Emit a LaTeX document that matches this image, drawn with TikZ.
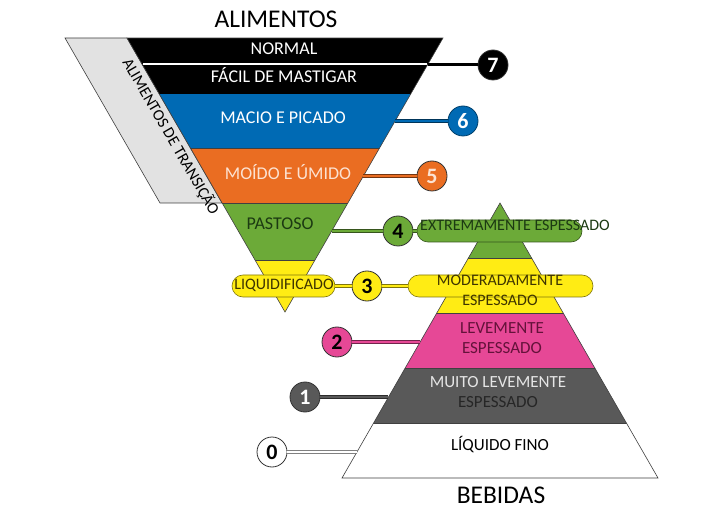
\documentclass[tikz,border=0pt]{standalone}
\usepackage{fontspec}
\setmainfont{Carlito}
\definecolor{azul}{RGB}{0,106,180}
\definecolor{laranja}{RGB}{234,109,34}
\definecolor{verde}{RGB}{108,170,56}
\definecolor{amarelo}{RGB}{255,236,20}
\definecolor{rosa}{RGB}{230,72,150}
\definecolor{cinza}{RGB}{89,89,89}
\definecolor{cinzac}{RGB}{226,226,226}
\definecolor{pessego}{RGB}{252,226,210}
\definecolor{verdet}{RGB}{28,58,18}
\definecolor{amarelot}{RGB}{62,52,0}
\definecolor{rosat}{RGB}{100,18,58}
\tikzset{
    CC/.style ={circle,minimum size=30pt,inner sep=0pt,draw=black!80,line width=0.8pt,font=\fontsize{22}{22}\selectfont\bfseries},
    BA/.style ={rectangle,rounded corners=11pt,minimum height=22pt,draw=#1!50!black,fill=#1,line width=0.6pt},
    LK/.style ={draw=#1!50!black,double=#1,double distance=2.6pt,line width=0.6pt},
    TX/.style ={font=\fontsize{16}{20}\selectfont,align=center,inner sep=0pt},
    TM/.style ={TX,font=\fontsize{17}{20}\selectfont},
    TB/.style ={TX,font=\fontsize{18}{22}\selectfont},
    BD/.style ={draw=black!75,line width=0.6pt}}

\begin{document}
\begin{tikzpicture}[x=1pt,y=-1pt]
        \useasboundingbox (0,0) rectangle (720,521);
        \fill[white] (0,0) rectangle (720,521);
        \filldraw[fill=cinzac,BD] (65,38) -- (127,38) -- (222,203) -- (160,203) -- cycle;
        \begin{scope}
            \clip (127,38) -- (443,38) -- (285,312) -- cycle;
            \fill[black] (100,38) rectangle (460,94);
            \fill[azul] (100,94) rectangle (460,148);
            \fill[laranja] (100,148) rectangle (460,203);
            \fill[verde] (100,203) rectangle (460,260);
            \fill[amarelo] (100,260) rectangle (460,312);
            \draw[BD] (100,148) -- (460,148) (100,203) -- (460,203) (100,260) -- (460,260);
        \end{scope}
        \draw[white,line width=1.2pt] (143,64) -- (427,64);
        \draw[BD] (127,38) -- (443,38) -- (285,312) -- cycle;
        \begin{scope}
            \clip (500,203) -- (658,478) -- (342,478) -- cycle;
            \fill[verde] (330,203) rectangle (670,258);
            \fill[amarelo] (330,258) rectangle (670,313);
            \fill[rosa] (330,313) rectangle (670,368);
            \fill[cinza] (330,368) rectangle (670,423);
            \draw[BD] (330,258) -- (670,258) (330,313) -- (670,313) (330,368) -- (670,368) (330,423) -- (670,423);
        \end{scope}
        \draw[BD] (500,203) -- (658,478) -- (342,478) -- cycle;
        \node[TX,rotate=-60,anchor=base] (AT) at (166.5,139) {ALIMENTOS DE TRANSIÇÃO};
        \node[BA=verde,minimum width=165pt] (B4) at (499.5,231) {};
        \node[BA=amarelo,minimum width=103pt] (B3a) at (283.5,286) {};
        \node[BA=amarelo,minimum width=185pt] (B3b) at (500.5,286) {};
        \node[CC,fill=black,text=white] (7) at (493,65) {7};
        \node[CC,fill=azul,text=white,draw=azul!60!black] (6) at (463,121) {6};
        \node[CC,fill=laranja,text=pessego] (5) at (432,176) {5};
        \node[CC,fill=verde] (4) at (398,231) {4};
        \node[CC,fill=amarelo] (3) at (367,286) {3};
        \node[CC,fill=rosa] (2) at (337,342) {2};
        \node[CC,fill=cinza,text=white] (1) at (305,397) {1};
        \node[CC,fill=white] (0) at (272,452) {0};
        \coordinate (e7) at (428,65);
        \coordinate (e6) at (395,121);
        \coordinate (e5) at (363,176);
        \coordinate (e4) at (332,231);
        \coordinate (e2) at (420,342);
        \coordinate (e1) at (388,397);
        \coordinate (e0) at (357,452);
        \node[font=\fontsize{25.5}{25}\selectfont,anchor=base] (AL) at (276,28) {ALIMENTOS};
        \node[font=\fontsize{25.5}{25}\selectfont,anchor=base] (BE) at (501,503) {BEBIDAS};
        \node[TB,white,anchor=base] (T7a) at (284,55) {NORMAL};
        \node[TB,white,anchor=base] (T7b) at (284,83) {FÁCIL DE MASTIGAR};
        \node[TB,white,anchor=base] (T6) at (283,124) {MACIO E PICADO};
        \node[TB,text=pessego,anchor=base] (T5) at (288,180) {MOÍDO E ÚMIDO};
        \node[TB,text=verdet,anchor=base] (T4a) at (280,230) {PASTOSO};
        \node[TX,text=amarelot,anchor=base] (T3a) at (284,290) {LIQUIDIFICADO};
        \node[TX,text=verdet,anchor=base] (T4b) at (515,231) {EXTREMAMENTE ESPESSADO};
        \node[TX,text=amarelot] (T3b) at (500,290.5) {MODERADAMENTE\\ESPESSADO};
        \node[TM,text=rosat] (T2) at (502,338) {LEVEMENTE\\ESPESSADO};
        \node[TM,text=black!10] (T1) at (498,392.5) {MUITO LEVEMENTE\\\textcolor{black!85}{ESPESSADO}};
        \node[TM,anchor=base] (T0) at (500,450) {LÍQUIDO FINO};
        \draw[black,line width=3pt] (e7) -- (7);
        \draw[LK=azul] (e6) -- (6);
        \draw[LK=laranja] (e5) -- (5);
        \draw[LK=verde] (e4) -- (4);
        \draw[LK=verde] (4) -- (B4);
        \draw[LK=amarelo] (B3a) -- (3);
        \draw[LK=amarelo] (3) -- (B3b);
        \draw[LK=rosa] (2) -- (e2);
        \draw[LK=cinza] (1) -- (e1);
        \draw[LK=white] (0) -- (e0);
    \end{tikzpicture}
\end{document}
